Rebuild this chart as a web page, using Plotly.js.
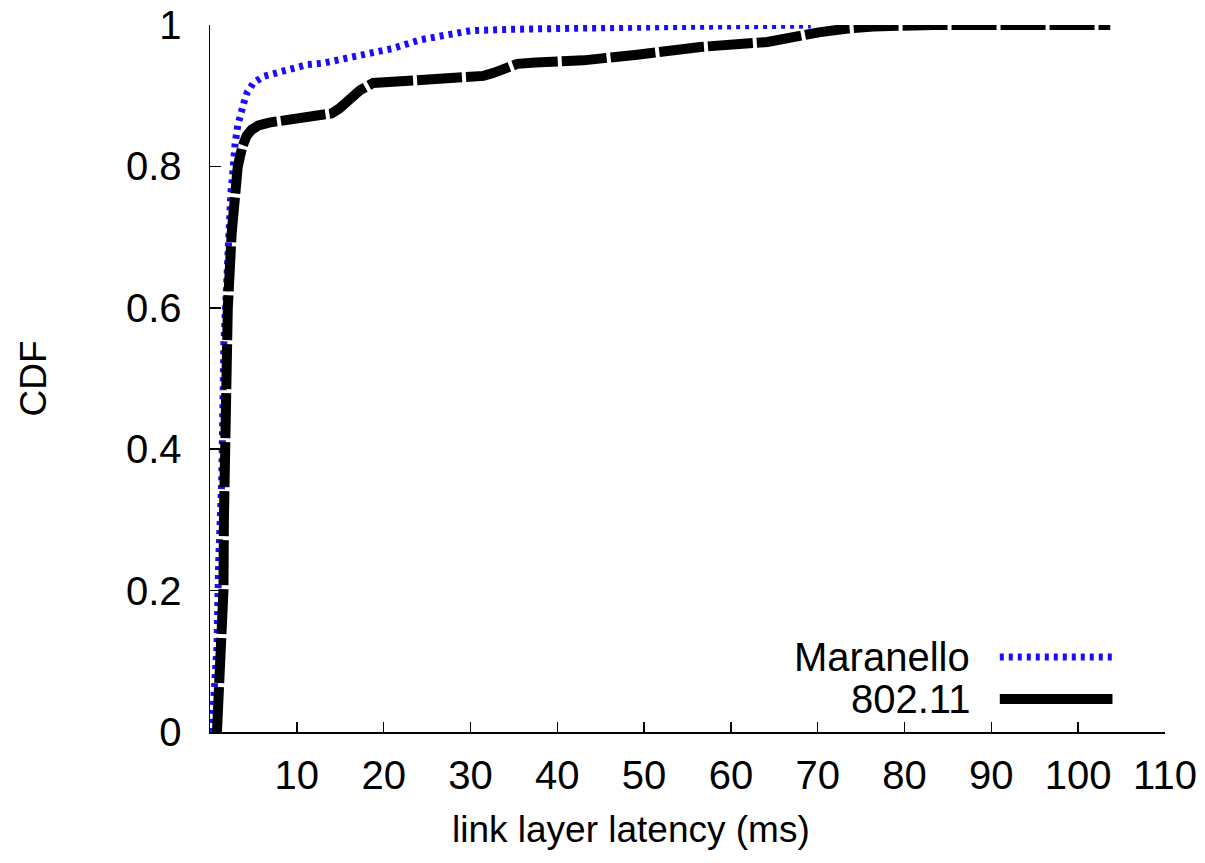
<!DOCTYPE html>
<html>
<head>
<meta charset="utf-8">
<script src="https://cdn.plot.ly/plotly-3.0.1.min.js"></script>
<style>html,body{margin:0;padding:0;background:#fff;}#chart{width:1205px;height:863px;}</style>
</head>
<body>
<div id="chart"></div>
<script>
const maranelloX = [0.2, 0.5, 0.8, 1.0, 1.35, 1.6, 1.75, 1.85, 2.05, 2.2, 2.4, 2.55, 2.65, 2.9, 3.2, 3.5, 3.9, 4.3, 5.0, 6.1, 7.5, 8.9, 11.2, 13, 14.6, 17.6, 21.1, 24.2, 28.0, 30, 35, 45, 55, 69.2];
const maranelloY = [0, 0.05, 0.12, 0.24, 0.356, 0.55, 0.6, 0.63, 0.672, 0.714, 0.762, 0.78, 0.806, 0.833, 0.858, 0.875, 0.89, 0.905, 0.918, 0.927, 0.932, 0.936, 0.944, 0.946, 0.95, 0.958, 0.967, 0.979, 0.988, 0.992, 0.994, 0.997, 0.998, 1.0];
const wifiX = [0.8, 1.1, 1.45, 1.55, 1.6, 1.7, 1.8, 2.05, 2.5, 2.9, 3.2, 3.7, 4.2, 4.8, 5.6, 6.8, 8.9, 12.7, 14.0, 14.9, 16.1, 17.3, 18.8, 21, 24.2, 30, 31.5, 32.6, 34.0, 35.4, 37.5, 40, 43, 49.2, 56.5, 64.2, 66.9, 70.3, 73.5, 76.4, 83.4, 103.7];
const wifiY = [0, 0.07, 0.16, 0.2, 0.3, 0.44, 0.5, 0.6, 0.706, 0.76, 0.8, 0.827, 0.843, 0.852, 0.858, 0.862, 0.866, 0.87, 0.875, 0.882, 0.894, 0.908, 0.918, 0.92, 0.922, 0.925, 0.928, 0.932, 0.94, 0.945, 0.947, 0.948, 0.95, 0.958, 0.969, 0.976, 0.983, 0.99, 0.995, 0.998, 1.0, 1.0];
const seriesNames = ["Maranello", "802.11"];
const xTicks = [10, 20, 30, 40, 50, 60, 70, 80, 90, 100, 110];
const yTicks = [0, 0.2, 0.4, 0.6, 0.8, 1];
const yTickText = ["0", "0.2", "0.4", "0.6", "0.8", "1"];
const xTitle = "link layer latency (ms)";
const yTitle = "CDF";

const FONT = "'Liberation Sans', Arial, Helvetica, sans-serif";

const traces = [
  {x: maranelloX, y: maranelloY, name: seriesNames[0], mode: "lines",
   line: {color: "#1a0dff", width: 7, dash: "4px,5px"}, showlegend: false},
  {x: wifiX, y: wifiY, name: seriesNames[1], mode: "lines",
   line: {color: "#000000", width: 10, dash: "45px,4px"}, showlegend: false}
];

const legX0 = 0.827, legX1 = 0.945, legTextX = 0.798;
const legY = [0.106, 0.0467];

const layout = {
  width: 1205, height: 863,
  paper_bgcolor: "#fff", plot_bgcolor: "#fff",
  margin: {l: 210, r: 40, t: 25, b: 131},
  font: {family: FONT, color: "#000", size: 40},
  xaxis: {
    range: [0, 110], tickvals: xTicks, ticks: "inside", ticklen: 10, tickwidth: 1.5, tickcolor: "#000",
    showline: true, linecolor: "#000", linewidth: 1.5, showgrid: false, zeroline: false,
    tickfont: {size: 40, family: FONT}, ticklabelstandoff: 7
  },
  yaxis: {
    range: [0, 1], tickvals: yTicks, ticktext: yTickText, ticks: "inside", ticklen: 11, tickwidth: 1.5, tickcolor: "#000",
    showline: true, linecolor: "#000", linewidth: 1.5, showgrid: false, zeroline: false,
    tickfont: {size: 40, family: FONT}, ticklabelstandoff: 19
  },
  showlegend: false,
  shapes: [
    {type: "line", xref: "paper", yref: "paper", x0: legX0, x1: legX1, y0: legY[0], y1: legY[0],
     line: {color: "#1a0dff", width: 7, dash: "4px,5px"}},
    {type: "line", xref: "paper", yref: "paper", x0: legX0, x1: legX1, y0: legY[1], y1: legY[1],
     line: {color: "#000", width: 10}}
  ],
  annotations: [
    {xref: "paper", yref: "paper", x: legTextX, y: legY[0], text: seriesNames[0], showarrow: false,
     xanchor: "right", yanchor: "middle", font: {size: 40, family: FONT}},
    {xref: "paper", yref: "paper", x: legTextX, y: legY[1], text: seriesNames[1], showarrow: false,
     xanchor: "right", yanchor: "middle", font: {size: 40, family: FONT}},
    {xref: "paper", yref: "paper", x: 0.441, y: -0.1386, text: xTitle, showarrow: false,
     xanchor: "center", yanchor: "middle", font: {size: 37, family: FONT}},
    {xref: "paper", yref: "paper", x: -0.1843, y: 0.5, text: yTitle, showarrow: false, textangle: -90,
     xanchor: "center", yanchor: "middle", font: {size: 37, family: FONT}}
  ]
};

Plotly.newPlot("chart", traces, layout, {displayModeBar: false, staticPlot: true});
</script>
</body>
</html>
